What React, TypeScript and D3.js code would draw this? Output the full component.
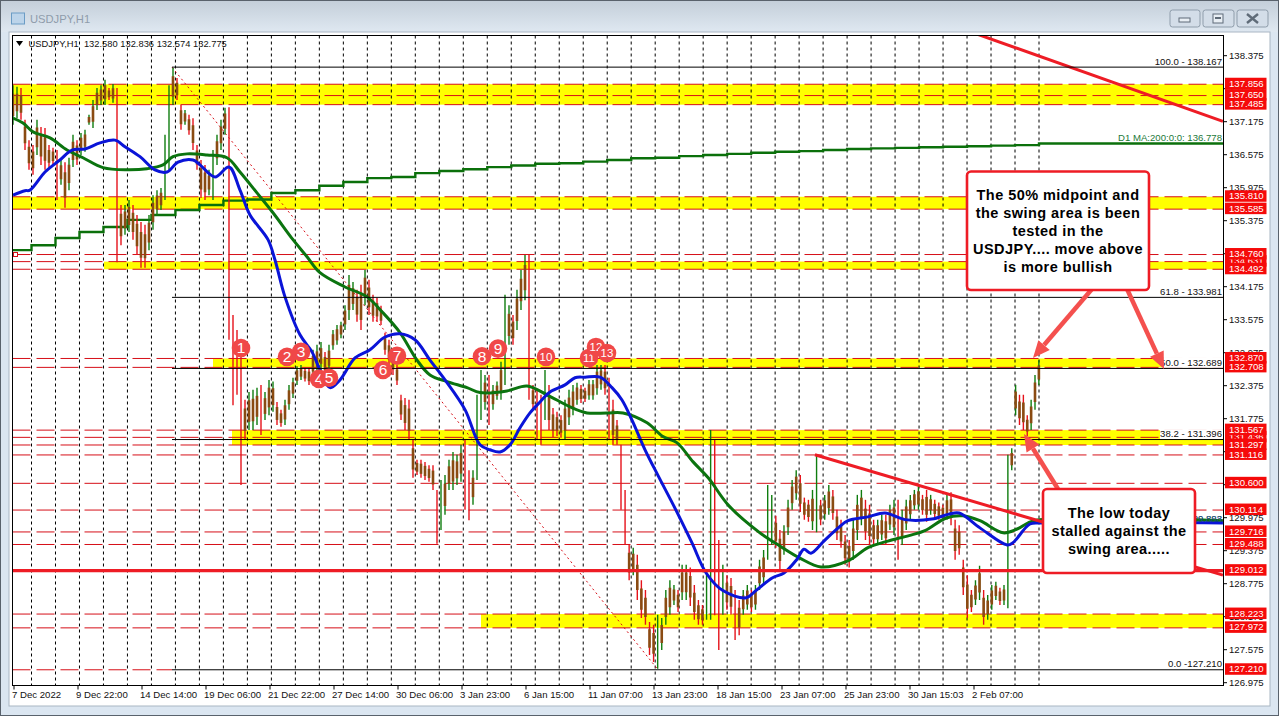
// USDJPY H1 MT4 screenshot with levels and callouts
import React from 'react';
import * as d3 from 'd3';

// bar highs / lows, ten bars a line, left to right
const barHighs = [
  137.84,137.81,137.79,137.21,136.84,136.75,137.21,137.08,137.06,136.75,
  136.70,136.66,136.48,136.44,136.52,136.94,136.84,136.97,137.03,137.30,
  137.57,137.79,137.84,137.94,137.79,137.86,137.79,135.66,135.66,135.75,
  135.66,135.48,135.35,135.30,135.48,135.84,135.93,135.97,136.94,137.84,
  138.15,137.97,137.48,137.39,137.30,137.24,136.75,136.48,136.39,136.30,
  136.66,136.94,137.21,137.43,137.44,133.66,133.39,133.12,132.12,132.26,
  132.30,132.34,132.39,132.26,132.48,132.45,132.08,131.94,132.12,132.39,
  132.52,132.73,132.75,132.70,132.70,133.03,133.12,133.17,132.99,133.12,
  133.39,133.48,133.54,133.84,134.39,134.26,134.12,134.21,134.48,134.30,
  134.03,133.97,133.83,133.34,133.21,133.03,132.75,132.21,132.15,132.12,
  131.39,131.03,131.03,130.99,130.93,130.93,130.48,130.66,130.75,131.03,
  131.17,131.12,131.30,131.39,130.84,130.84,132.21,132.66,132.57,132.57,
  132.39,132.45,132.81,134.03,133.84,133.66,134.12,134.48,134.75,134.75,
  132.39,132.30,132.21,132.66,132.39,131.97,131.90,131.84,132.12,132.30,
  132.39,132.43,132.39,132.34,132.48,132.48,132.75,132.75,132.75,132.52,
  132.12,131.75,131.30,130.48,129.48,129.43,129.30,128.84,128.66,128.08,
  128.03,128.21,128.15,128.66,128.84,128.75,128.66,129.12,129.12,129.07,
  128.75,128.48,128.39,129.03,131.57,131.39,129.57,129.12,128.93,128.88,
  128.66,128.48,128.66,128.75,128.66,128.75,129.21,129.39,130.57,130.39,
  130.01,129.75,129.84,130.30,130.66,130.84,130.75,130.34,130.30,130.48,
  131.12,130.30,130.39,130.57,130.48,130.12,129.94,129.66,129.57,129.94,
  130.39,130.48,130.30,130.21,129.94,129.94,130.03,130.03,130.21,130.30,
  130.30,130.12,130.30,130.39,130.48,130.55,130.39,130.48,130.39,130.30,
  130.25,130.21,130.39,130.44,129.94,129.84,129.21,128.93,128.66,128.84,
  129.10,128.66,128.57,128.75,128.81,128.70,128.75,
  131.12,131.24,132.39,132.21,132.21,131.84,132.12,132.57,132.84,
];
const barLows = [
  137.12,137.24,137.21,136.66,136.30,136.21,136.57,136.39,136.30,136.34,
  136.39,135.75,136.03,135.61,135.93,136.35,136.39,136.57,136.63,137.12,
  137.06,137.39,137.48,137.48,137.57,137.52,134.62,134.93,135.12,135.17,
  135.03,134.75,134.52,134.52,134.84,135.21,135.48,135.57,135.75,136.30,
  137.48,137.57,137.03,137.12,136.94,136.66,136.30,135.79,135.75,135.84,
  135.75,136.39,136.66,136.94,133.21,132.02,132.21,130.57,131.39,131.57,
  131.57,131.66,131.48,131.75,131.84,131.90,131.66,131.63,131.66,131.94,
  132.15,132.39,132.48,132.45,132.39,132.52,132.57,132.66,132.57,132.63,
  133.03,133.12,133.24,133.39,133.57,133.75,133.54,133.39,133.84,133.66,
  133.54,133.54,133.48,132.94,132.75,132.57,132.39,131.75,131.57,131.39,
  130.70,130.75,130.70,130.66,130.63,130.48,129.50,129.75,130.03,130.48,
  130.48,130.57,130.63,130.12,129.93,130.21,130.66,131.75,131.94,131.66,
  131.94,132.12,132.12,132.39,133.12,133.12,133.39,133.75,133.93,132.12,
  131.94,131.39,131.30,131.75,131.57,131.44,131.46,131.43,131.39,131.66,
  131.84,132.03,132.06,132.08,132.12,132.12,132.21,132.30,132.21,131.39,
  131.30,131.30,130.12,129.48,128.84,128.93,128.48,128.15,128.03,127.48,
  127.35,127.23,127.57,128.03,128.21,128.39,128.26,128.48,128.48,128.37,
  128.12,128.03,128.03,128.12,128.12,128.20,127.57,128.21,128.30,128.21,
  127.75,127.84,128.21,128.30,128.26,128.30,128.66,128.75,129.21,129.48,
  129.43,129.03,129.30,129.66,130.12,130.30,130.08,129.94,129.90,129.75,
  129.71,129.84,129.94,130.03,129.94,129.57,129.43,129.12,129.07,129.21,
  129.57,129.84,129.57,129.48,129.48,129.48,129.57,129.48,129.75,129.66,
  129.21,129.48,129.75,129.94,130.12,130.12,130.03,129.90,130.03,129.97,
  129.94,129.97,129.94,129.84,129.21,129.30,128.57,128.15,128.26,128.39,
  128.48,128.03,128.12,128.30,128.48,128.39,128.39,
  128.33,130.84,131.84,131.66,131.57,131.46,131.57,131.94,132.39,
];

// 50 and 100 hour moving averages, knots given by bar number
const blueBars = [0,3,4.25,8,11.75,14.75,18,21.75,25.5,28,31.75,35.5,38.5,41.25,45,46.75,50.5,54,56.75,59.25,63.75,65.5,68,71.75,74.75,76.75,79.25,81.75,85.5,89.25,93,96.75,100.5,104.25,108,113,116.75,119.25,121.75,124.25,126.75,129.25,131.75,134.25,138,140.5,143,146.75,149.75,152.2,154.7,157.9,161.1,165.3,169.4,172.9,177,182.7,185.1,189.1,192,195.2,196.9,198.6,201.8,205.3,207.7,212.6,216.8,221.7,228.3,232.5,235,240.1,246.8,248.3,252.7,255.8,302.5];
const blueValues = [135.84,135.92,135.93,136.26,136.48,136.66,136.68,136.79,136.84,136.72,136.54,136.30,136.26,136.44,136.48,136.39,136.17,136.35,135.93,135.48,135.03,134.66,133.99,133.30,132.99,132.66,132.34,132.48,132.88,133.03,133.26,133.32,133.21,132.84,132.48,131.94,131.30,131.21,131.17,131.30,131.61,131.88,132.08,132.26,132.39,132.52,132.53,132.53,132.34,132.12,131.75,131.21,130.74,130.14,129.52,128.97,128.65,128.52,128.65,128.88,128.97,129.22,129.40,129.33,129.55,129.79,129.92,129.99,130.06,129.94,129.95,130.04,130.06,129.79,129.48,129.52,129.86,129.88,129.88];
const greenBars = [0,2.5,5,9.25,13.5,17.5,22.5,28.5,33.5,37.5,40,43.5,48.5,53.5,56.75,61,65,70,73.5,76.75,83,88.5,92.5,96.75,101,104.25,108.5,113.5,116.75,123.5,128.5,133.5,139.25,143.5,148.5,152.5,158.4,162.3,165.7,169.7,173.4,178.5,186.1,191,195.9,201.1,207.7,212.6,217.5,222.7,226.6,231.8,235.9,240.1,245.8,249.4,253.7,302.5];
const greenValues = [137.24,137.15,136.99,136.88,136.66,136.52,136.34,136.30,136.32,136.39,136.54,136.59,136.57,136.52,136.26,135.88,135.52,135.03,134.72,134.43,134.17,133.99,133.70,133.34,132.84,132.57,132.45,132.34,132.25,132.28,132.37,132.21,131.99,131.88,131.88,131.88,131.70,131.45,131.34,130.99,130.70,130.19,129.70,129.46,129.24,129.08,129.19,129.43,129.55,129.65,129.74,129.97,130.01,129.92,129.70,129.77,129.92,129.92];
// daily MA 200, one value per day (steps on the grid lines)
const dailyMaValues = [134.84,134.93,135.06,135.17,135.26,135.39,135.48,135.57,135.66,135.74,135.76,135.88,135.93,136.01,136.08,136.15,136.17,136.24,136.28,136.31,136.35,136.38,136.41,136.42,136.45,136.48,136.51,136.52,136.55,136.57,136.59,136.61,136.63,136.64,136.66,136.68,136.69,136.70,136.71,136.72,136.73,136.74,136.75,136.778];

const axisTicks = [138.375,137.775,137.175,136.575,135.975,135.375,134.775,134.175,133.575,132.975,132.375,131.775,131.175,130.575,129.975,129.375,128.775,128.175,127.575,126.975];
const timeLabels = ['7 Dec 2022','9 Dec 22:00','14 Dec 14:00','19 Dec 06:00','21 Dec 22:00','27 Dec 14:00','30 Dec 06:00','3 Jan 23:00','6 Jan 15:00','11 Jan 07:00','13 Jan 23:00','18 Jan 15:00','23 Jan 07:00','25 Jan 23:00','30 Jan 15:03','2 Feb 07:00'];

const dashedLevels = [137.856,137.65,137.485,135.81,135.585,134.76,134.631,134.492,132.87,132.708,131.567,131.436,131.297,131.116,130.6,130.114,129.716,129.488,128.223,127.972];
const coveredTags = [134.631,131.436];
const visibleTags = [137.856,137.65,137.485,135.81,135.585,134.76,134.492,132.87,132.708,131.567,131.297,131.116,130.6,130.114,129.716,129.488,129.012,128.223,127.972,127.21];

// yellow swing areas: top, bottom, first bar
const bandTops = [137.856,135.81,134.631,132.87,131.567,128.223];
const bandBottoms = [137.485,135.585,134.492,132.708,131.297,127.972];
const bandStartBars = [0,0,22.75,50,54.75,117];

const fibLevels = [138.167,133.981,132.689,131.396,127.21];
const fibLabels = ['100.0 - 138.167','61.8 - 133.981','50.0 - 132.689','38.2 - 131.396','0.0 -127.210'];
const fibStartBar = 39.75;

const swingNumbers = ['1','2','3','4','5','6','7','8','9','10','11','12','13'];
const swingBars = [57,68.5,72,76.5,79,92.5,96,117.25,121.25,133.25,144,145.75,148.5];
const swingPrices = [133.06,132.9,132.99,132.5,132.52,132.66,132.92,132.91,133.05,132.9,132.88,133.08,132.97];

const callOne = ['The 50% midpoint and','the swing area is been','tested in the','USDJPY.... move above','is more bullish'];
const callTwo = ['The low today','stalled against the','swing area.....'];

const WIDTH = 1279;
const HEIGHT = 716;
const FONT = '"Liberation Sans", Arial, sans-serif';
const left = 12.5;
const right = 1223.5;
const top = 35.5;
const bottom = 685.5;

const y = d3.scaleLinear().domain([126.975, 138.375]).range([682.7, 55.7]);
const x = d3.scaleLinear().domain([0, 152, 246, 254]).range([13, 621, 1004, 1035]);
const gridX = d3.scaleLinear().domain([0, 42]).range([31.5, 1039]);

const fixed = (v: number) => v.toFixed(3);

const maLine = (bars: number[], values: number[]) =>
  d3.line<number>()
    .x(d => x(bars[d]))
    .y(d => y(values[d]))
    .curve(d3.curveCatmullRom.alpha(0.5))(d3.range(bars.length)) as string;

const dailyLine = d3.line<number>()
  .x((_, i) => (i === 0 ? left : i === dailyMaValues.length ? right : gridX(i - 1)))
  .y(d => y(d))
  .curve(d3.curveStepAfter)([...dailyMaValues, dailyMaValues[dailyMaValues.length - 1]]) as string;

const Arrow = ({ x1, y1, x2, y2 }: { x1: number; y1: number; x2: number; y2: number }) => {
  const a = Math.atan2(y2 - y1, x2 - x1);
  const back = 17;
  const half = 7.5;
  const bx = x2 - Math.cos(a) * back;
  const by = y2 - Math.sin(a) * back;
  const nx = -Math.sin(a) * half;
  const ny = Math.cos(a) * half;
  return (
    <g>
      <line x1={x1} y1={y1} x2={bx} y2={by} stroke="#f4504e" strokeWidth={4.5} />
      <path d={`M${x2},${y2}L${bx + nx},${by + ny}L${bx - nx},${by - ny}Z`} fill="#f4504e" />
    </g>
  );
};

const Callout = ({ bx, by, w, h, lines, cy }: { bx: number; by: number; w: number; h: number; lines: string[]; cy: number }) => (
  <g>
    <rect x={bx} y={by} width={w} height={h} rx={4} fill="#fff" stroke="#ee1c25" strokeWidth={2.6} />
    {lines.map((t, i) => (
      <text key={t} x={bx + w / 2} y={cy + i * 18} textAnchor="middle" fontFamily={FONT} fontWeight={700} fontSize={14.5} letterSpacing={0.45} fill="#000">{t}</text>
    ))}
  </g>
);

const WinButton = ({ bx, w, children }: { bx: number; w: number; children: React.ReactNode }) => (
  <g>
    <rect x={bx} y={10} width={w} height={17} rx={2.5} fill="#d3dde8" stroke="#8f9dab" />
    {children}
  </g>
);

export default function App() {
  return (
    <svg width={WIDTH} height={HEIGHT} viewBox={`0 0 ${WIDTH} ${HEIGHT}`} style={{ position: 'absolute', left: 0, top: 0, display: 'block' }}>
      <defs>
        <linearGradient id="titleBar" x1="0" y1="0" x2="0" y2="1">
          <stop offset="0" stopColor="#c3ced9" />
          <stop offset="1" stopColor="#dfe8f1" />
        </linearGradient>
        <clipPath id="plot"><rect x={left} y={top} width={right - left} height={bottom - top} /></clipPath>
      </defs>

      {/* window chrome */}
      <rect x={0} y={0} width={WIDTH} height={HEIGHT} fill="#dbe6f1" />
      <rect x={0} y={0} width={WIDTH} height={32} fill="url(#titleBar)" />
      <rect x={0.5} y={0.5} width={WIDTH - 1} height={HEIGHT - 1} fill="none" stroke="#59626c" />
      <rect x={9} y={32} width={1261} height={674} fill="#fff" stroke="#a9b6c3" />
      <rect x={11.5} y={13} width={13} height={11} fill="#bcd4ea" stroke="#6b9cc5" />
      <text x={30} y={23} fontFamily={FONT} fontSize={11.2} fill="#8f9cab">USDJPY,H1</text>
      <WinButton bx={1170} w={30}><rect x={1179} y={18} width={11} height={4} fill="#e8eef4" stroke="#5f6b78" /></WinButton>
      <WinButton bx={1203} w={31}><rect x={1213} y={14} width={10} height={9} fill="#e8eef4" stroke="#5f6b78" /><rect x={1215} y={17} width={6} height={2} fill="#5f6b78" /></WinButton>
      <WinButton bx={1237} w={31}><path d="M1247,14L1258,23M1258,14L1247,23" stroke="#5f6b78" strokeWidth={2.4} /></WinButton>

      <g clipPath="url(#plot)">
        {bandTops.map((t, i) => (
          <rect key={t} x={x(bandStartBars[i])} y={y(t)} width={right - x(bandStartBars[i])} height={y(bandBottoms[i]) - y(t)} fill="#ffff00" />
        ))}
        {d3.range(0, 43).map(i => (
          <line key={i} x1={gridX(i)} x2={gridX(i)} y1={top} y2={bottom} stroke="#000" strokeDasharray="3 3" strokeWidth={1} />
        ))}
        {dashedLevels.map(v => (
          <line key={v} x1={left} x2={right} y1={y(v)} y2={y(v)} stroke="#d60f18" strokeWidth={1} strokeDasharray="18 6" />
        ))}
        <line x1={left} x2={x(fibStartBar)} y1={y(127.21)} y2={y(127.21)} stroke="#d60f18" strokeWidth={1} strokeDasharray="18 6" />
        <line x1={x(fibStartBar)} y1={y(138.167)} x2={x(161.1)} y2={y(127.21)} stroke="#d60f18" strokeWidth={1} strokeDasharray="2 3" />

        <path d={dailyLine} fill="none" stroke="#0b700b" strokeWidth={2.4} />

        {barHighs.map((h, i) => {
          const l = barLows[i];
          const mid = (h + l) / 2;
          const prev = i > 0 ? (barHighs[i - 1] + barLows[i - 1]) / 2 : mid;
          const colour = mid >= prev ? '#0f7d0f' : '#e5121a';
          const small = h - l < 0.85;
          return (
            <g key={i}>
              <line x1={x(i)} x2={x(i)} y1={y(h)} y2={y(l)} stroke={colour} strokeWidth={1.4} />
              {small && (
                <line x1={x(i)} x2={x(i)} y1={y(mid + (h - l) * 0.28)} y2={y(mid - (h - l) * 0.28)} stroke="#8a4b12" strokeWidth={2.6} />
              )}
            </g>
          );
        })}

        <path d={maLine(greenBars, greenValues)} fill="none" stroke="#0b740f" strokeWidth={3} />
        <path d={maLine(blueBars, blueValues)} fill="none" stroke="#0a14d8" strokeWidth={3} />

        <line x1={left} x2={right} y1={y(129.012)} y2={y(129.012)} stroke="#ee1c25" strokeWidth={3.4} />
        <line x1={x(238.9)} y1={y(138.78)} x2={x(302.5)} y2={y(137.18)} stroke="#ee1c25" strokeWidth={3} />
        <line x1={x(199.6)} y1={y(131.12)} x2={x(302.5)} y2={y(128.93)} stroke="#ee1c25" strokeWidth={3} />

        {/* fib labels and lines */}
        <rect x={1162} y={y(132.87) - 1} width={62} height={y(132.708) - y(132.87) + 1.5} fill="#fff" />
        <rect x={1160} y={y(131.567) - 1} width={64} height={y(131.396) - y(131.567) + 1} fill="#fff" />
        {fibLevels.map(v => (
          <line key={v} x1={x(fibStartBar)} x2={right} y1={y(v)} y2={y(v)} stroke="#000" strokeWidth={1} />
        ))}
      </g>

      {fibLevels.map((v, i) => (
        <text key={v} x={1222} y={y(v) - 2.5} textAnchor="end" fontFamily={FONT} fontSize={9.6} fill="#111">{fibLabels[i]}</text>
      ))}
      <text x={1222} y={140.5} textAnchor="end" fontFamily={FONT} fontSize={9.6} fill="#1d7a3a">D1 MA:200:0:0: 136.778</text>
      <text x={1222} y={521.5} textAnchor="end" fontFamily={FONT} fontSize={9.6} fill="#1d7a3a">129.893</text>
      <text x={1222} y={521.5} textAnchor="end" fontFamily={FONT} fontSize={9.6} fill="#1a2a9a" opacity={0.7}>129.888</text>

      <rect x={left} y={top} width={right - left} height={bottom - top} fill="none" stroke="#000" />

      {/* price axis */}
      {axisTicks.map(v => (
        <g key={v}>
          <line x1={right} x2={right + 3.5} y1={y(v)} y2={y(v)} stroke="#000" />
          <text x={1229} y={y(v) + 3.5} fontFamily={FONT} fontSize={9.6} fill="#111">{fixed(v)}</text>
        </g>
      ))}
      {[...coveredTags, ...visibleTags].map(v => (
        <g key={v}>
          <rect x={1225} y={y(v) - 6.5} width={41.5} height={11.5} fill="#f50a0a" />
          <text x={1229} y={y(v) + 2.6} fontFamily={FONT} fontSize={9.6} fill="#fff">{fixed(v)}</text>
        </g>
      ))}

      {/* time axis */}
      {timeLabels.map((t, i) => (
        <g key={t}>
          <line x1={14 + 64 * i} x2={14 + 64 * i} y1={bottom} y2={bottom + 4} stroke="#000" />
          <text x={12 + 64 * i} y={698} fontFamily={FONT} fontSize={9.6} fill="#111">{t}</text>
        </g>
      ))}

      <path d="M16,41L23,41L19.5,46Z" fill="#000" />
      <text x={28.5} y={47} fontFamily={FONT} fontSize={9.35} fill="#111" style={{ whiteSpace: 'pre' }}>USDJPY,H1  132.580 132.836 132.574 132.775</text>
      <rect x={13.5} y={252.5} width={4} height={4} fill="#fff" stroke="#d60f18" />

      {/* numbered swing tests */}
      {swingNumbers.map((n, i) => (
        <g key={n}>
          <circle cx={x(swingBars[i])} cy={y(swingPrices[i])} r={9.3} fill="#f04848" />
          <text x={x(swingBars[i])} y={y(swingPrices[i]) + (n.length > 1 ? 4 : 5.4)} textAnchor="middle" fontFamily={FONT} fontSize={n.length > 1 ? 11.5 : 15.5} fill="#fff">{n}</text>
        </g>
      ))}

      <Arrow x1={1092} y1={289} x2={1033} y2={358} />
      <Arrow x1={1127} y1={289} x2={1164} y2={369} />
      <Arrow x1={1058} y1={489} x2={1024} y2={434} />

      <Callout bx={967} by={171.5} w={182} h={118.5} lines={callOne} cy={200} />
      <Callout bx={1043} by={489} w={152} h={84} lines={callTwo} cy={518} />
    </svg>
  );
}
